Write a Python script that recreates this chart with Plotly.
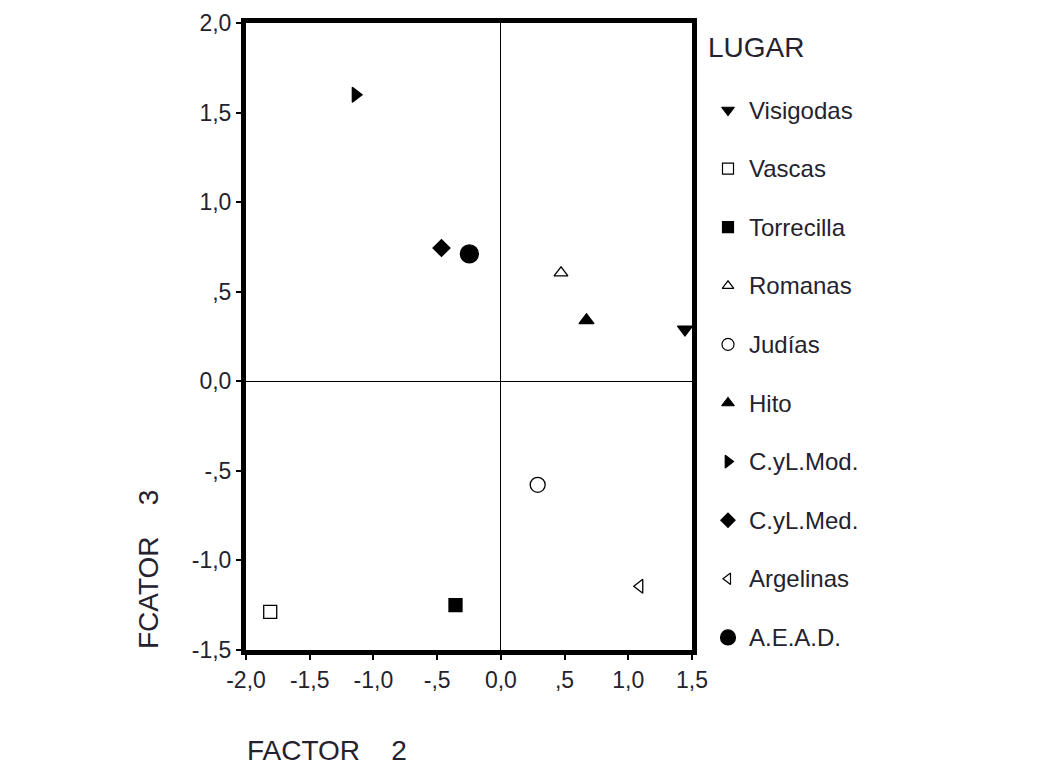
import plotly.graph_objects as go

categories = ["Visigodas", "Vascas", "Torrecilla", "Romanas", "Judías", "Hito",
              "C.yL.Mod.", "C.yL.Med.", "Argelinas", "A.E.A.D."]
factor2 = [1.445, -1.81, -0.356, 0.472, 0.289, 0.672, -1.14, -0.466, 1.09, -0.247]
factor3 = [0.29, -1.287, -1.25, 0.605, -0.578, 0.34, 1.60, 0.744, -1.144, 0.711]
symbols = ["triangle-down", "square-open", "square", "triangle-up-open", "circle-open",
           "triangle-up", "triangle-right", "diamond", "triangle-left-open", "circle"]
sizes = [13, 13, 13, 12, 15, 13, 13, 13, 12, 18]
legend_sizes = [11, 11, 11, 10, 12, 11, 11, 11, 10, 15]

x_ticks = [-2.0, -1.5, -1.0, -0.5, 0.0, 0.5, 1.0, 1.5]
x_tick_text = ["-2,0", "-1,5", "-1,0", "-,5", "0,0", ",5", "1,0", "1,5"]
y_ticks = [-1.5, -1.0, -0.5, 0.0, 0.5, 1.0, 1.5, 2.0]
y_tick_text = ["-1,5", "-1,0", "-,5", "0,0", ",5", "1,0", "1,5", "2,0"]

FONT = "Liberation Sans, Arial, sans-serif"
TXT = "#24222e"

# figure-space layout (page adds an 8px body margin around the figure)
FIG_W, FIG_H = 1039, 762
L, R, T, B = 238, 684, 15, 642
LEG_L, LEG_R = 692, 892
W = LEG_R - L
H = B - T
ITEM0, STEP = 102, 58.6

fig = go.Figure()

for i, cat in enumerate(categories):
    fig.add_trace(go.Scatter(
        x=[factor2[i]], y=[factor3[i]], mode="markers", name=cat, showlegend=False,
        marker=dict(symbol=symbols[i], size=sizes[i], color="black",
                    line=dict(color="black", width=1.3)),
        xaxis="x", yaxis="y"))

# manual legend drawn on its own axes
legend_idx = list(range(len(categories)))
for i, cat in enumerate(categories):
    fig.add_trace(go.Scatter(
        x=[0.14], y=[legend_idx[i]], mode="markers", showlegend=False,
        marker=dict(symbol=symbols[i], size=legend_sizes[i], color="black",
                    line=dict(color="black", width=1.2)),
        xaxis="x2", yaxis="y2", cliponaxis=False))
    fig.add_annotation(x=0.235, y=legend_idx[i], xref="x2", yref="y2", text=cat,
                       showarrow=False, xanchor="left", yanchor="middle",
                       font=dict(family=FONT, size=24, color=TXT))

fig.add_annotation(x=0.03, y=(39 - ITEM0) / STEP, xref="x2", yref="y2", text="LUGAR",
                   showarrow=False, xanchor="left", yanchor="middle",
                   font=dict(family=FONT, size=28, color=TXT))

fig.add_annotation(x=(140 - L) / W, y=(B - 562) / H, xref="paper", yref="paper",
                   text="FCATOR\u00a0\u00a0\u00a0\u00a03", textangle=-90, showarrow=False,
                   xanchor="center", yanchor="middle",
                   font=dict(family=FONT, size=28, color=TXT))
fig.add_annotation(x=(237 - L) / W, y=-(742 - B) / H, xref="paper", yref="paper",
                   text="FACTOR\u00a0\u00a0\u00a0\u00a02", showarrow=False,
                   xanchor="left", yanchor="middle",
                   font=dict(family=FONT, size=28, color=TXT))

axis_common = dict(showgrid=False, zeroline=True, zerolinecolor="black", zerolinewidth=1.2,
                   showline=True, linecolor="black", linewidth=5, mirror=True,
                   ticks="outside", ticklen=5, tickwidth=2, tickcolor="black",
                   automargin=False,
                   tickfont=dict(size=23, color=TXT, family=FONT))

fig.update_layout(
    width=FIG_W, height=FIG_H,
    margin=dict(l=L, r=FIG_W - LEG_R, t=T, b=FIG_H - B),
    paper_bgcolor="white", plot_bgcolor="white",
    font=dict(family=FONT, size=22, color=TXT),
    xaxis=dict(domain=[0, (R - L) / W], range=[-2.0, 1.5], tickvals=x_ticks,
               ticktext=x_tick_text, **axis_common),
    yaxis=dict(range=[-1.5, 2.0], tickvals=y_ticks, ticktext=y_tick_text, **axis_common),
    xaxis2=dict(domain=[(LEG_L - L) / W, 1], range=[0, 1], visible=False, fixedrange=True,
                automargin=False),
    yaxis2=dict(anchor="x2", range=[(B - ITEM0) / STEP, (T - ITEM0) / STEP],
                visible=False, fixedrange=True, automargin=False),
)

fig.write_html("out.html")
